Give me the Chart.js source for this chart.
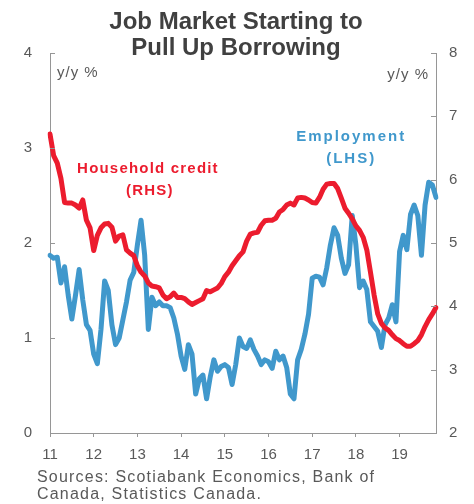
<!DOCTYPE html>
<html>
<head>
<meta charset="utf-8">
<script src="https://cdn.jsdelivr.net/npm/chart.js@4.4.1/dist/chart.umd.min.js"></script>
<style>
  html, body { margin: 0; padding: 0; background: #fff; }
</style>
</head>
<body>
<canvas id="myChart" width="474" height="504"></canvas>
<script>
// Year tick labels (January of each year), monthly data from Jan 2011
const years = ['11', '12', '13', '14', '15', '16', '17', '18', '19']
const monthsInLastYear = 11

// Employment, y/y % (left axis)
const employment = [
    1.87, 1.84, 1.85, 1.58, 1.75, 1.45, 1.20, 1.45, 1.72, 1.40, 1.14, 1.08,
    0.83, 0.73, 1.09, 1.60, 1.50, 1.14, 0.93, 1.00, 1.19, 1.38, 1.61, 1.69,
    1.98, 2.24, 1.87, 1.09, 1.43, 1.34, 1.38, 1.34, 1.34, 1.32, 1.21, 1.04,
    0.81, 0.67, 0.93, 0.83, 0.41, 0.57, 0.61, 0.36, 0.59, 0.77, 0.65, 0.70,
    0.72, 0.69, 0.51, 0.72, 1.00, 0.91, 0.89, 0.98, 0.88, 0.81, 0.72, 0.77,
    0.75, 0.68, 0.86, 0.77, 0.81, 0.69, 0.41, 0.36, 0.77, 0.88, 1.04, 1.25,
    1.63, 1.65, 1.64, 1.56, 1.74, 1.98, 2.16, 2.08, 1.84, 1.68, 1.77, 2.29,
    1.98, 1.53, 1.60, 1.51, 1.17, 1.12, 1.07, 0.90, 1.14, 1.21, 1.35, 1.17,
    1.91, 2.08, 1.93, 2.30, 2.40, 2.29, 1.87, 2.40, 2.64, 2.61, 2.48
]

// Household credit, y/y % (right axis)
const householdCredit = [
    6.72, 6.38, 6.26, 6.02, 5.64, 5.63, 5.63, 5.60, 5.55, 5.68, 5.36, 5.24,
    4.88, 5.12, 5.24, 5.30, 5.31, 5.25, 5.03, 5.11, 5.13, 4.89, 4.84, 4.80,
    4.64, 4.54, 4.48, 4.37, 4.32, 4.31, 4.29, 4.18, 4.12, 4.15, 4.21, 4.14,
    4.14, 4.12, 4.07, 4.03, 4.06, 4.09, 4.12, 4.25, 4.23, 4.26, 4.29, 4.36,
    4.47, 4.54, 4.64, 4.72, 4.80, 4.86, 5.03, 5.14, 5.16, 5.17, 5.28, 5.35,
    5.36, 5.36, 5.39, 5.49, 5.53, 5.60, 5.63, 5.60, 5.71, 5.72, 5.71, 5.68,
    5.64, 5.63, 5.72, 5.85, 5.93, 5.94, 5.94, 5.86, 5.71, 5.55, 5.47, 5.38,
    5.27, 5.20, 5.09, 4.89, 4.54, 4.18, 3.88, 3.73, 3.66, 3.62, 3.55, 3.49,
    3.46, 3.41, 3.37, 3.37, 3.41, 3.46, 3.55, 3.68, 3.79, 3.88, 3.98
]

const RED = '#ec1c2e'
const BLUE = '#4098cc'
const GREY = '#595959'
const AXIS = '#969696'
const FONT = '"Liberation Sans", Arial, sans-serif'

// month labels like "11-01"; only Januaries get a tick label
let months = []
years.forEach((y, i) => {
    const n = i === years.length - 1 ? monthsInLastYear : 12
    for (let m = 1; m <= n; m++) months.push(y + '-' + String(m).padStart(2, '0'))
})

function drawText(ctx, text, x, y, font, color, align, spacing) {
    ctx.save()
    ctx.font = font
    ctx.fillStyle = color
    ctx.textAlign = align
    ctx.textBaseline = 'alphabetic'
    if ('letterSpacing' in ctx) ctx.letterSpacing = (spacing || 0) + 'px'
    ctx.fillText(text, x, y)
    ctx.restore()
}

// short tick marks pointing into the plot on both value axes
const innerTicks = {
    id: 'innerTicks',
    afterDraw(chart) {
        const ctx = chart.ctx
        ctx.save()
        ctx.strokeStyle = AXIS
        ctx.lineWidth = 1
        ;['y', 'y1'].forEach(id => {
            const s = chart.scales[id]
            s.ticks.forEach(t => {
                const py = Math.round(s.getPixelForValue(t.value)) + 0.5
                const px = id === 'y' ? s.right : s.left
                const dir = id === 'y' ? 1 : -1
                ctx.beginPath()
                ctx.moveTo(px, py)
                ctx.lineTo(px + dir * 5, py)
                ctx.stroke()
            })
        })
        ctx.restore()
    }
}

// title, unit labels, series labels and sources
const labels = {
    id: 'labels',
    afterDraw(chart) {
        const ctx = chart.ctx
        const x = chart.scales.x, y = chart.scales.y, y1 = chart.scales.y1
        const bold = '700 24px ' + FONT

        drawText(ctx, 'Job Market Starting to', 236, 29, bold, '#404040', 'center', 0)
        drawText(ctx, 'Pull Up Borrowing', 236, 55, bold, '#404040', 'center', 0)

        drawText(ctx, 'y/y %', 57, 77, '15px ' + FONT, GREY, 'left', 1)
        drawText(ctx, 'y/y %', 429, 79, '15px ' + FONT, GREY, 'right', 1)

        const lbl = '700 15px ' + FONT
        drawText(ctx, 'Household credit', x.getPixelForValue(26.9), y1.getPixelForValue(6.1), lbl, RED, 'center', 1.2)
        drawText(ctx, '(RHS)', x.getPixelForValue(27.4), y1.getPixelForValue(5.76), lbl, RED, 'center', 1.2)
        drawText(ctx, 'Employment', x.getPixelForValue(82.7), y.getPixelForValue(3.07), lbl, BLUE, 'center', 2)
        drawText(ctx, '(LHS)', x.getPixelForValue(82.7), y.getPixelForValue(2.84), lbl, BLUE, 'center', 2)

        drawText(ctx, 'Sources: Scotiabank Economics, Bank of', 37, 482, '16px ' + FONT, GREY, 'left', 1.2)
        drawText(ctx, 'Canada, Statistics Canada.', 37, 499, '16px ' + FONT, GREY, 'left', 1.2)
    }
}

const ctx = document.getElementById('myChart').getContext('2d')

const myChart = new Chart(ctx, {
    type: 'line',
    data: {
        labels: months,
        datasets: [{
            label: 'Household credit (RHS)',
            data: householdCredit,
            yAxisID: 'y1',
            borderColor: RED,
            borderWidth: 5,
            order: 0
        }, {
            label: 'Employment (LHS)',
            data: employment,
            yAxisID: 'y',
            borderColor: BLUE,
            borderWidth: 5,
            order: 1
        }]
    },
    options: {
        responsive: false,
        animation: false,
        devicePixelRatio: 1,
        layout: { padding: { top: 53, left: 0, right: 0, bottom: 0 } },
        elements: {
            point: { radius: 0 },
            line: { tension: 0, borderJoinStyle: 'round', borderCapStyle: 'round' }
        },
        plugins: {
            legend: { display: false },
            tooltip: { enabled: false }
        },
        scales: {
            x: {
                type: 'category',
                offset: false,
                border: { color: AXIS },
                grid: { drawOnChartArea: false, tickLength: 4, color: AXIS },
                ticks: {
                    autoSkip: false,
                    maxRotation: 0,
                    padding: 9,
                    color: GREY,
                    font: { family: FONT, size: 15 },
                    callback: function (val) {
                        const l = months[val]
                        return l.endsWith('-01') ? l.slice(0, 2) : null
                    }
                },
                afterFit(scale) { scale.height = 71 }
            },
            y: {
                position: 'left',
                min: 0,
                max: 4,
                border: { color: AXIS },
                grid: { display: true, drawOnChartArea: false, drawTicks: false },
                ticks: { stepSize: 1, padding: 18, color: GREY, font: { family: FONT, size: 15 } },
                afterFit(scale) { scale.width = 50 }
            },
            y1: {
                position: 'right',
                min: 2,
                max: 8,
                border: { color: AXIS },
                grid: { display: true, drawOnChartArea: false, drawTicks: false },
                ticks: { stepSize: 1, padding: 13, color: GREY, font: { family: FONT, size: 15 } },
                afterFit(scale) { scale.width = 38 }
            }
        }
    },
    plugins: [innerTicks, labels]
})
</script>
</body>
</html>
